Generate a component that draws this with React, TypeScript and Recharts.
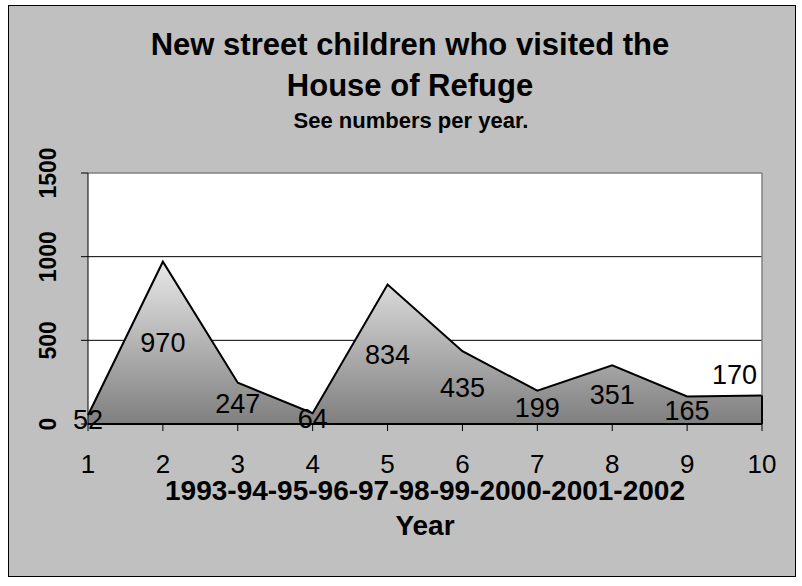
import React from 'react'
import {
  AreaChart, Area, XAxis, YAxis, CartesianGrid, ReferenceLine, LabelList,
} from 'recharts'

// ── Data ─────────────────────────────────────────────────────────────────────

const years = ['1', '2', '3', '4', '5', '6', '7', '8', '9', '10']
const newChildren = [52, 970, 247, 64, 834, 435, 199, 351, 165, 170]
const yTicks = [0, 500, 1000, 1500]
const gridValues = [500, 1000]

const TITLE = 'New street children who visited the'
const TITLE_2 = 'House of Refuge'
const SUBTITLE = 'See numbers per year.'
const PERIOD = '1993-94-95-96-97-98-99-2000-2001-2002'
const X_TITLE = 'Year'

const data = years.map((year, i) => ({ year, count: newChildren[i] }))

// ── Layout ───────────────────────────────────────────────────────────────────

const W = 802
const H = 586
const PLOT = { left: 88, top: 173, right: 762, bottom: 424 }
const Y_AXIS_W = 40
const X_AXIS_H = 30
const FONT = '"Liberation Sans", Arial, sans-serif'

const margin = {
  top: PLOT.top,
  right: W - PLOT.right,
  left: PLOT.left - Y_AXIS_W,
  bottom: H - PLOT.bottom - X_AXIS_H,
}

// y tick labels are turned on their side, bold
function YTick(props: any) {
  const { y, payload } = props
  const bx = 56
  return (
    <text
      x={bx}
      y={y}
      transform={`rotate(-90, ${bx}, ${y})`}
      textAnchor="middle"
      fontFamily={FONT}
      fontWeight="bold"
      fontSize={23}
      fill="#000"
    >
      {payload.value}
    </text>
  )
}

// Excel puts area labels halfway between the point and the baseline;
// the last one was nudged up-left of its point
function ValueLabel(props: any) {
  const x = props.x ?? props.viewBox?.x
  const y = props.y ?? props.viewBox?.y
  const { value, index } = props
  if (index === newChildren.length - 1) {
    return (
      <text x={x - 5} y={y - 12} textAnchor="end" fontFamily={FONT} fontSize={27} fill="#000">
        {value}
      </text>
    )
  }
  const mid = (y + PLOT.bottom) / 2
  return (
    <text x={x} y={mid + 9.5} textAnchor="middle" fontFamily={FONT} fontSize={27} fill="#000">
      {value}
    </text>
  )
}

export default function App() {
  return (
    <div style={{ position: 'absolute', left: 0, top: 0, width: W, height: H, background: '#fff' }}>
      <div
        style={{
          position: 'absolute', left: 8, top: 5, width: 788, height: 572,
          boxSizing: 'border-box', border: '1px solid #000', background: '#C0C0C0',
        }}
      />
      <div style={{ position: 'absolute', left: 0, top: 0 }}>
        <AreaChart width={W} height={H} data={data} margin={margin}>
          <defs>
            <linearGradient id="areaFill" x1="0" y1="0" x2="0" y2="1">
              <stop offset="0%" stopColor="#E8E8E8" />
              <stop offset="100%" stopColor="#7F7F7F" />
            </linearGradient>
          </defs>
          <CartesianGrid
            fill="#fff"
            vertical={false}
            horizontalValues={gridValues}
            stroke="#000"
            strokeWidth={1}
          />
          <ReferenceLine y={1500} stroke="#808080" strokeWidth={1.5} />
          <ReferenceLine x="10" stroke="#808080" strokeWidth={1.5} />
          <XAxis
            dataKey="year"
            height={X_AXIS_H}
            axisLine={{ stroke: '#000', strokeWidth: 2 }}
            tickLine={{ stroke: '#000' }}
            tickSize={7}
            tickMargin={24}
            tick={{ fill: '#000', fontSize: 26, fontFamily: FONT }}
            interval={0}
          />
          <YAxis
            width={Y_AXIS_W}
            domain={[0, 1500]}
            ticks={yTicks}
            interval={0}
            axisLine={{ stroke: '#000' }}
            tickLine={{ stroke: '#000' }}
            tickSize={7}
            tick={<YTick />}
          />
          <Area
            type="linear"
            dataKey="count"
            stroke="#000"
            strokeWidth={2}
            fill="url(#areaFill)"
            fillOpacity={1}
            dot={false}
            activeDot={false}
            isAnimationActive={false}
          >
            <LabelList dataKey="count" content={<ValueLabel />} />
          </Area>
          <ReferenceLine
            segment={[{ x: '10', y: 0 }, { x: '10', y: newChildren[newChildren.length - 1] }]}
            stroke="#000"
            strokeWidth={2}
          />
        </AreaChart>
      </div>
      <svg
        width={W}
        height={H}
        style={{ position: 'absolute', left: 0, top: 0, pointerEvents: 'none' }}
        fontFamily={FONT}
        fontWeight="bold"
        fill="#000"
      >
        <text x={410} y={55} textAnchor="middle" fontSize={31}>{TITLE}</text>
        <text x={410} y={96} textAnchor="middle" fontSize={31}>{TITLE_2}</text>
        <text x={411} y={128} textAnchor="middle" fontSize={22}>{SUBTITLE}</text>
        <text x={425} y={500} textAnchor="middle" fontSize={28}>{PERIOD}</text>
        <text x={425} y={535} textAnchor="middle" fontSize={28}>{X_TITLE}</text>
      </svg>
    </div>
  )
}
